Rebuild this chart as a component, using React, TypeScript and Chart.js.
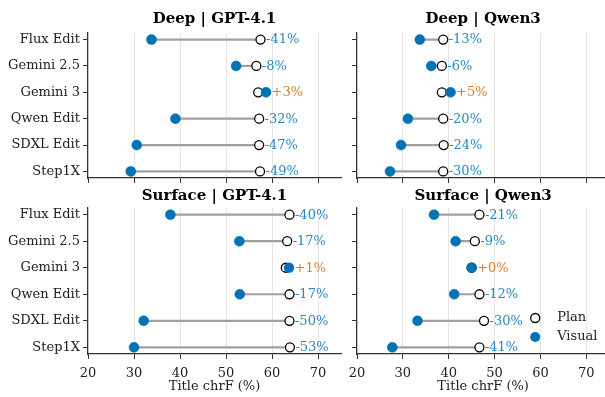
import React, { useEffect, useRef } from 'react';
import { Chart, registerables } from 'chart.js';
Chart.register(...registerables);

const categories = ['Flux Edit', 'Gemini 2.5', 'Gemini 3', 'Qwen Edit', 'SDXL Edit', 'Step1X'];
const xTicks = [20, 30, 40, 50, 60, 70];
const xMin = 20;
const xMax = 75;
const xTitle = 'Title chrF (%)';
const seriesNames = ['Plan', 'Visual'];

const deepGptPlan = [57.5, 56.6, 57.0, 57.2, 57.2, 57.4];
const deepGptVisual = [33.8, 52.2, 58.7, 39.0, 30.6, 29.3];
const deepGptChange = ['-41%', '-8%', '+3%', '-32%', '-47%', '-49%'];

const deepQwenPlan = [38.8, 38.5, 38.5, 38.8, 38.9, 38.8];
const deepQwenVisual = [33.7, 36.2, 40.4, 31.1, 29.6, 27.2];
const deepQwenChange = ['-13%', '-6%', '+5%', '-20%', '-24%', '-30%'];

const surfGptPlan = [63.8, 63.3, 63.0, 63.8, 63.8, 63.9];
const surfGptVisual = [37.9, 52.9, 63.7, 53.0, 32.1, 30.0];
const surfGptChange = ['-40%', '-17%', '+1%', '-17%', '-50%', '-53%'];

const surfQwenPlan = [46.7, 45.7, 45.0, 46.7, 47.7, 46.7];
const surfQwenVisual = [36.8, 41.5, 45.0, 41.2, 33.2, 27.7];
const surfQwenChange = ['-21%', '-9%', '+0%', '-12%', '-30%', '-41%'];

const SERIF = "'DejaVu Serif', serif";
const BLUE = '#0173B2';
const LABEL_BLUE = '#2a88c0';
const LABEL_ORANGE = '#de7b2d';
const GRAY = '#a0a0a0';
const AXIS = '#333333';

type PanelProps = {
  title: string;
  plan: number[];
  visual: number[];
  change: string[];
  left: number;
  top: number;
  width: number;
  height: number;
  yWidth: number;
  padRight: number;
  xHeight: number;
  titlePadTop: number;
  titlePadBottom: number;
  showY: boolean;
  showX: boolean;
  showLegend: boolean;
};

function Panel(p: PanelProps) {
  const ref = useRef<HTMLCanvasElement | null>(null);
  useEffect(() => {
    if (!ref.current) return;
    const font = { family: SERIF, size: 13 };
    const labelPlugin = {
      id: 'changeLabels',
      afterDatasetsDraw(chart: any) {
        const ctx = chart.ctx;
        const xs = chart.scales.x;
        const ys = chart.scales.y;
        ctx.save();
        ctx.font = `13px ${SERIF}`;
        ctx.textAlign = 'left';
        ctx.textBaseline = 'middle';
        p.change.forEach((txt, i) => {
          const xv = Math.max(p.plan[i], p.visual[i]);
          ctx.fillStyle = txt.startsWith('+') ? LABEL_ORANGE : LABEL_BLUE;
          ctx.fillText(txt, xs.getPixelForValue(xv) + 5.5, ys.getPixelForValue(i) + 0.5);
        });
        ctx.restore();
      },
    };
    const legendPlugin = {
      id: 'cornerLegend',
      afterDatasetsDraw(chart: any) {
        if (!p.showLegend) return;
        const ctx = chart.ctx;
        const a = chart.chartArea;
        ctx.save();
        const mx = a.right - 74;
        const tx = a.right - 52;
        const rows = [a.bottom - 36, a.bottom - 17];
        ctx.beginPath();
        ctx.arc(mx, rows[0], 4.5, 0, Math.PI * 2);
        ctx.fillStyle = '#fff';
        ctx.fill();
        ctx.lineWidth = 1.3;
        ctx.strokeStyle = '#000';
        ctx.stroke();
        ctx.beginPath();
        ctx.arc(mx, rows[1], 5, 0, Math.PI * 2);
        ctx.fillStyle = BLUE;
        ctx.fill();
        ctx.font = `13px ${SERIF}`;
        ctx.fillStyle = '#222';
        ctx.textAlign = 'left';
        ctx.textBaseline = 'middle';
        ctx.fillText(seriesNames[0], tx, rows[0]);
        ctx.fillText(seriesNames[1], tx, rows[1]);
        ctx.restore();
      },
    };
    const datasets: any[] = [
      {
        label: seriesNames[1],
        data: p.visual.map((v, i) => ({ x: v, y: i })),
        pointRadius: 5,
        pointBackgroundColor: BLUE,
        pointBorderColor: BLUE,
        pointBorderWidth: 0.5,
        showLine: false,
        order: 0,
      },
      {
        label: seriesNames[0],
        data: p.plan.map((v, i) => ({ x: v, y: i })),
        pointRadius: 4.5,
        pointBackgroundColor: '#ffffff',
        pointBorderColor: '#000000',
        pointBorderWidth: 1.3,
        showLine: false,
        order: 1,
      },
      ...categories.map((c, i) => ({
        label: c,
        data: [
          { x: p.visual[i], y: i },
          { x: p.plan[i], y: i },
        ],
        showLine: true,
        borderColor: GRAY,
        borderWidth: 2.2,
        pointRadius: 0,
        order: 2,
      })),
    ];
    const chart = new Chart(ref.current, {
      type: 'scatter',
      data: { datasets },
      options: {
        animation: false,
        responsive: false,
        maintainAspectRatio: false,
        events: [],
        layout: { padding: { left: 0, right: p.padRight, top: 0, bottom: 0 } },
        plugins: {
          legend: { display: false },
          tooltip: { enabled: false },
          title: {
            display: true,
            fullSize: false,
            text: p.title,
            color: '#000',
            font: { family: SERIF, size: 15, weight: 'bold' },
            padding: { top: p.titlePadTop, bottom: p.titlePadBottom },
          },
        },
        scales: {
          x: {
            type: 'linear',
            min: xMin,
            max: xMax,
            position: 'bottom',
            afterBuildTicks: (s: any) => {
              s.ticks = xTicks.map((v) => ({ value: v }));
            },
            afterFit: (s: any) => {
              s.height = p.xHeight;
              s.paddingLeft = 0;
              s.paddingRight = 0;
            },
            ticks: {
              display: p.showX,
              font,
              color: '#222',
              padding: 7,
              maxRotation: 0,
              autoSkip: false,
              callback: (v: any) => String(v),
            },
            grid: { color: '#e4e4e4', lineWidth: 1, tickColor: AXIS, tickLength: 5 },
            border: { color: AXIS, width: 1.2 },
            title: {
              display: p.showX,
              text: xTitle,
              color: '#222',
              font,
              padding: { top: 0, bottom: 3 },
            },
          },
          y: {
            type: 'linear',
            min: -0.25,
            max: 5.25,
            reverse: true,
            afterBuildTicks: (s: any) => {
              s.ticks = categories.map((_, i) => ({ value: i }));
            },
            afterFit: (s: any) => {
              s.width = p.yWidth;
              s.paddingTop = 0;
              s.paddingBottom = 0;
            },
            ticks: {
              display: p.showY,
              font,
              color: '#222',
              padding: 3,
              autoSkip: false,
              callback: (v: any) => categories[v as number],
            },
            grid: { drawOnChartArea: false, tickColor: AXIS, tickLength: 5 },
            border: { color: AXIS, width: 1.2 },
          },
        },
      } as any,
      plugins: [labelPlugin, legendPlugin],
    });
    return () => chart.destroy();
  }, []);
  return (
    <canvas
      ref={ref}
      width={p.width}
      height={p.height}
      style={{ position: 'absolute', left: p.left, top: p.top, width: p.width, height: p.height }}
    />
  );
}

export default function App() {
  const topCommon = { top: 0, height: 190, xHeight: 12, titlePadTop: 10, titlePadBottom: 5, showX: false };
  const botCommon = { top: 185, height: 212, xHeight: 43, titlePadTop: 2, titlePadBottom: 3, showX: true };
  const leftCommon = { left: 0, width: 350, yWidth: 88, padRight: 9, showY: true };
  const rightCommon = { left: 340, width: 275, yWidth: 17, padRight: 5, showY: false };
  return (
    <div
      style={{
        position: 'absolute',
        left: 0,
        top: 0,
        width: 605,
        height: 397,
        overflow: 'hidden',
        background: '#fff',
      }}
    >
      <Panel title="Deep | GPT-4.1" plan={deepGptPlan} visual={deepGptVisual} change={deepGptChange}
        {...topCommon} {...leftCommon} showLegend={false} />
      <Panel title="Deep | Qwen3" plan={deepQwenPlan} visual={deepQwenVisual} change={deepQwenChange}
        {...topCommon} {...rightCommon} showLegend={false} />
      <Panel title="Surface | GPT-4.1" plan={surfGptPlan} visual={surfGptVisual} change={surfGptChange}
        {...botCommon} {...leftCommon} showLegend={false} />
      <Panel title="Surface | Qwen3" plan={surfQwenPlan} visual={surfQwenVisual} change={surfQwenChange}
        {...botCommon} {...rightCommon} showLegend={true} />
    </div>
  );
}
